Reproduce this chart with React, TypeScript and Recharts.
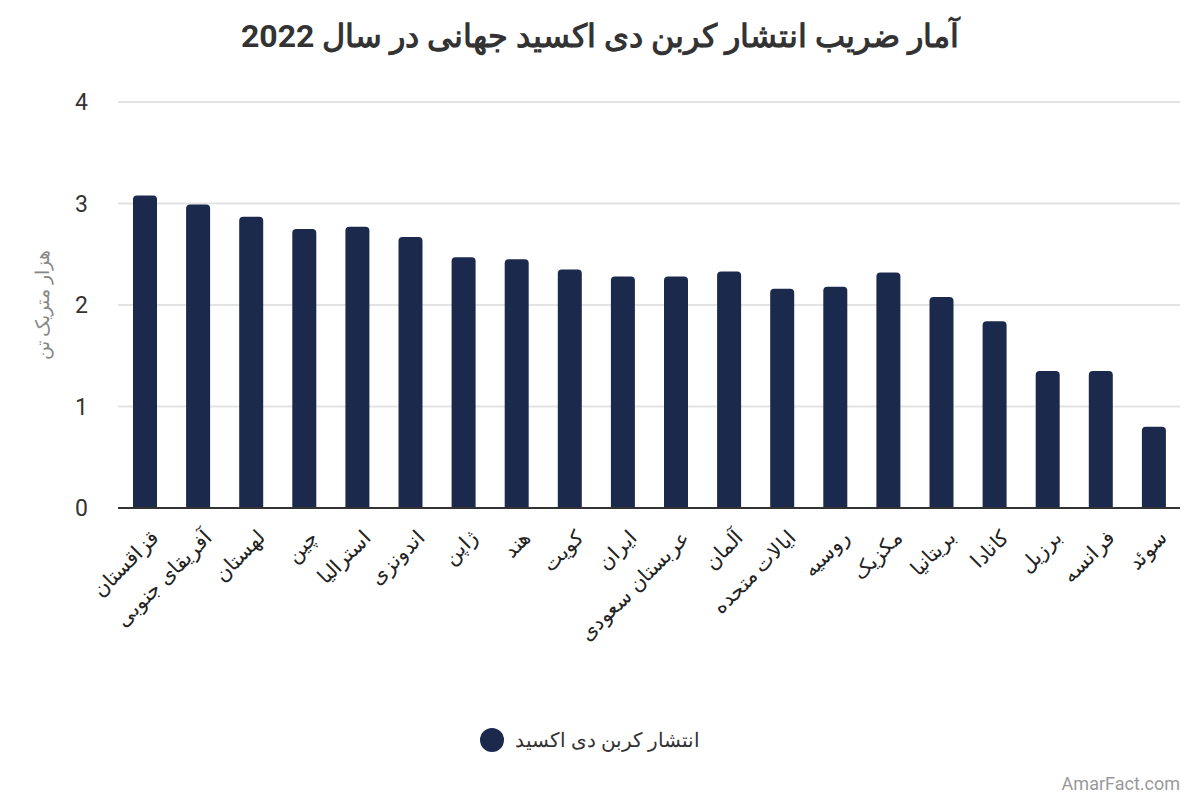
import React from "react";
import { BarChart, Bar, XAxis, YAxis, CartesianGrid, Legend } from "recharts";

const countries = [
  "قزاقستان",
  "آفریقای جنوبی",
  "لهستان",
  "چین",
  "استرالیا",
  "اندونزی",
  "ژاپن",
  "هند",
  "کویت",
  "ایران",
  "عربستان سعودی",
  "آلمان",
  "ایالات متحده",
  "روسیه",
  "مکزیک",
  "بریتانیا",
  "کانادا",
  "برزیل",
  "فرانسه",
  "سوئد",
];

const emissions = [
  3.08, 2.99, 2.87, 2.75, 2.77, 2.67, 2.47, 2.45, 2.35, 2.28, 2.28, 2.33, 2.16, 2.18, 2.32,
  2.08, 1.84, 1.35, 1.35, 0.8,
];

const yTicks = [0, 1, 2, 3, 4];

const SERIES_NAME = "انتشار کربن دی اکسید";
const Y_TITLE = "هزار متریک تن";
const BAR_COLOR = "#1b2a4c";
const FONT = "Roboto, 'Noto Sans', sans-serif";

const data = countries.map((name, i) => ({ name, value: emissions[i] }));

function CountryTick({ x, y, payload }: { x?: number; y?: number; payload?: { value: string } }) {
  const px = (x ?? 0) + 5;
  const py = (y ?? 0) + 12;
  return (
    <text
      x={px}
      y={py}
      transform={`rotate(-45, ${px}, ${py})`}
      textAnchor="end"
      dominantBaseline="hanging"
      fill="#222"
      fontSize={20.5}
      fontFamily={FONT}
    >
      {payload?.value}
    </text>
  );
}

function YTitle() {
  return (
    <text
      x={42}
      y={305}
      transform="rotate(-90, 42, 305)"
      textAnchor="middle"
      dominantBaseline="central"
      fill="#888"
      fontSize={19}
      fontFamily={FONT}
    >
      {Y_TITLE}
    </text>
  );
}

function LegendBox() {
  return (
    <div
      style={{
        height: 30,
        display: "flex",
        alignItems: "center",
        justifyContent: "center",
        gap: 11,
        fontFamily: FONT,
        fontSize: 19.5,
        color: "#333",
      }}
    >
      <span style={{ width: 24, height: 24, borderRadius: "50%", background: BAR_COLOR, display: "inline-block" }} />
      <span>{SERIES_NAME}</span>
    </div>
  );
}

export default function App() {
  return (
    <div style={{ position: "relative", width: 1200, height: 800, margin: -8, background: "#fff", fontFamily: FONT }}>
      <div
        style={{
          position: "absolute",
          top: 17,
          left: 0,
          width: 1200,
          textAlign: "center",
          fontSize: 32,
          fontWeight: 700,
          color: "#333",
        }}
      >
        آمار ضریب انتشار کربن دی اکسید جهانی در سال 2022
      </div>
      <BarChart width={1200} height={800} data={data} margin={{ top: 102, right: 20, bottom: 45, left: 0 }}>
        <CartesianGrid vertical={false} stroke="#e3e3e3" strokeWidth={2} />
        <XAxis
          dataKey="name"
          interval={0}
          height={217}
          tickLine={false}
          axisLine={{ stroke: "#333", strokeWidth: 2 }}
          tick={<CountryTick />}
        />
        <YAxis
          width={118}
          domain={[0, 4]}
          ticks={yTicks}
          axisLine={false}
          tickLine={false}
          tickSize={0}
          tickMargin={30}
          tick={{ fill: "#333", fontSize: 23, fontFamily: FONT }}
          label={<YTitle />}
        />
        <Legend verticalAlign="bottom" content={<LegendBox />} />
        <Bar dataKey="value" name={SERIES_NAME} fill={BAR_COLOR} barSize={24} radius={[4, 4, 0, 0]} isAnimationActive={false} />
      </BarChart>
      <div style={{ position: "absolute", right: 20, bottom: 6, fontSize: 18, color: "#999" }}>AmarFact.com</div>
    </div>
  );
}
